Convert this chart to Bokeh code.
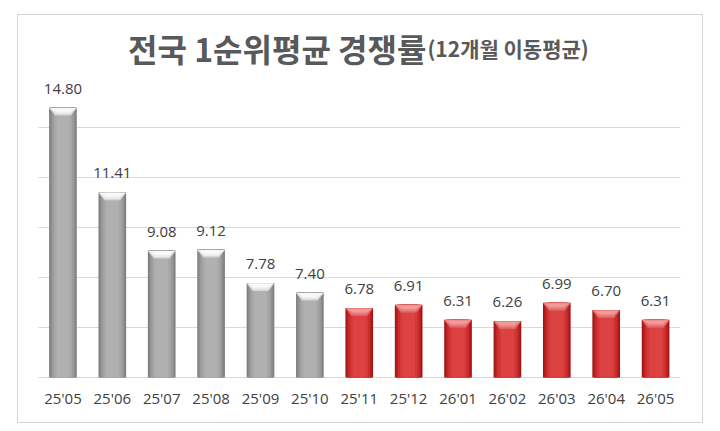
import numpy as np
from bokeh.plotting import figure
from bokeh.models import Range1d, Label, ColumnDataSource
from bokeh.core.properties import value
from bokeh.embed import file_html
from bokeh.resources import INLINE

# ---- data ----
months = ["25'05", "25'06", "25'07", "25'08", "25'09", "25'10", "25'11",
          "25'12", "26'01", "26'02", "26'03", "26'04", "26'05"]
rates = [14.80, 11.41, 9.08, 9.12, 7.78, 7.40, 6.78,
         6.91, 6.31, 6.26, 6.99, 6.70, 6.31]
rate_labels = ["14.80", "11.41", "9.08", "9.12", "7.78", "7.40", "6.78",
               "6.91", "6.31", "6.26", "6.99", "6.70", "6.31"]
highlight = [False] * 6 + [True] * 7
grid_ticks = [4, 6, 8, 10, 12, 14]
title_main = "전국 1순위평균 경쟁률"
title_sub = "(12개월 이동평균)"

AXIS_MIN = 4
x = np.arange(len(months))

p = figure(width=720, height=431, output_backend="svg", toolbar_location=None,
           x_range=Range1d(-0.92, 12.95), y_range=Range1d(2.2, 18.52),
           x_axis_location=None, y_axis_location=None,
           min_border_left=17, min_border_right=18, min_border_top=14,
           min_border_bottom=9)
p.xgrid.visible = False
p.ygrid.visible = False
p.outline_line_color = "#d4d4d4"
p.outline_line_width = 1
p.background_fill_color = "white"
p.border_fill_color = "white"

# gridlines
p.segment(x0=[-0.5] * len(grid_ticks), x1=[12.5] * len(grid_ticks),
          y0=grid_ticks, y1=grid_ticks, line_color="#d9d9d9", line_width=1)

# bar shading layers (dark edges -> light centre)
gray_layers = ["#7f7f7f", "#8e8e8e", "#9c9c9c", "#a8a8a8", "#b0b0b0"]
red_layers = ["#a01616", "#b82020", "#c92c2c", "#d53838", "#dc4242"]
widths = [0.56, 0.50, 0.44, 0.36, 0.26]

colors_by_layer = []
for gl, rl in zip(gray_layers, red_layers):
    colors_by_layer.append([rl if h else gl for h in highlight])

for w, cols in zip(widths, colors_by_layer):
    src = ColumnDataSource(dict(x=x, top=rates, c=cols))
    p.vbar(x="x", top="top", bottom=AXIS_MIN, width=w, fill_color="c",
           line_color=None, source=src)

# top bevel (trapezoid highlight)
bev_h = 0.32
for inset, h_frac, gcol, rcol in [(0.0, 1.0, "#d6d6d6", "#e06262"),
                                  (0.04, 0.8, "#ececec", "#ea7c7c"),
                                  (0.08, 0.55, "#f8f8f8", "#f09a9a")]:
    xs, ys, cs = [], [], []
    for xi, r, h in zip(x, rates, highlight):
        half = 0.28 - inset * 0.3
        top = r - 0.02
        bot = r - bev_h * h_frac
        xs.append([xi - half, xi + half, xi + half - 0.12, xi - half + 0.12])
        ys.append([top, top, bot, bot])
        cs.append(rcol if h else gcol)
    p.patches(xs=xs, ys=ys, fill_color=cs, line_color=None)

# value labels
p.text(x=x, y=rates, text=rate_labels, text_align="center",
       text_baseline="alphabetic", y_offset=-19,
       text_font=value("Open Sans"), text_font_size="15px", text_color="#404040")

# category labels
p.text(x=x, y=[AXIS_MIN] * len(months), text=months, text_align="center",
       text_baseline="alphabetic", y_offset=20,
       text_font=value("Open Sans"), text_font_size="15px", text_color="#404040")

# title
p.add_layout(Label(x=7.36, y=17.2, text=title_main, text_align="right",
                   text_baseline="alphabetic", text_font="Noto Sans CJK KR",
                   text_font_style="bold", text_font_size="32px",
                   text_color="#595959"))
p.add_layout(Label(x=7.38, y=17.2, text=title_sub, text_align="left",
                   text_baseline="alphabetic", text_font="Noto Sans CJK KR",
                   text_font_style="bold", text_font_size="21px",
                   text_color="#595959"))

open("out.html", "w").write(file_html(p, INLINE))
